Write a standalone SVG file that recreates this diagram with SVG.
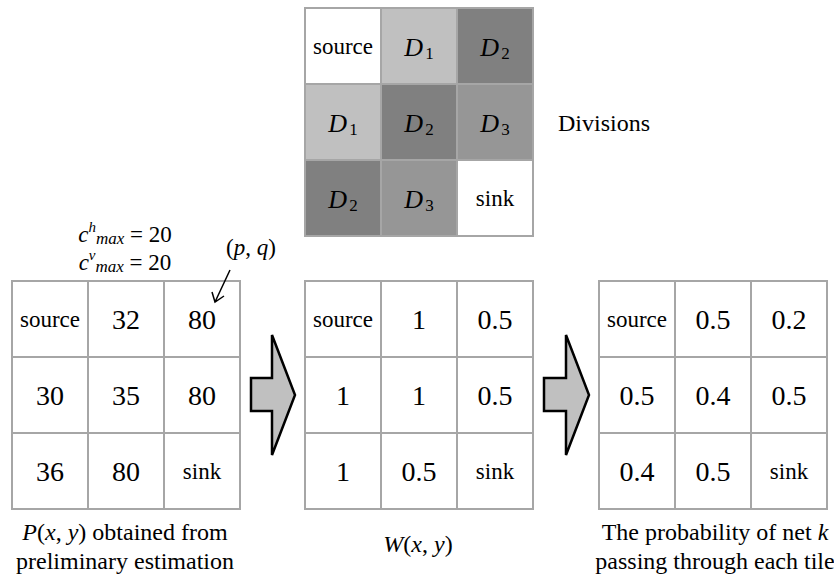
<svg xmlns="http://www.w3.org/2000/svg" width="834" height="576" viewBox="0 0 834 576">
<rect width="834" height="576" fill="#fff"/>

<g id="divisions-grid" text-anchor="middle" font-family="Liberation Serif">
<g stroke="#a6a6a6" stroke-width="2">
<rect x="305" y="8" width="76" height="76" fill="#fff"/>
<rect x="381" y="8" width="76" height="76" fill="#c0c0c0"/>
<rect x="457" y="8" width="76" height="76" fill="#808080"/>
<rect x="305" y="84" width="76" height="76" fill="#c0c0c0"/>
<rect x="381" y="84" width="76" height="76" fill="#808080"/>
<rect x="457" y="84" width="76" height="76" fill="#969696"/>
<rect x="305" y="160" width="76" height="76" fill="#808080"/>
<rect x="381" y="160" width="76" height="76" fill="#969696"/>
<rect x="457" y="160" width="76" height="76" fill="#fff"/>
</g>
<text font-family="Liberation Serif" font-size="23" x="343" y="54">source</text>
<text font-family="Liberation Serif" font-size="26" font-style="italic" x="419" y="56">D<tspan font-size="17" font-style="normal" dx="2" dy="3">1</tspan></text>
<text font-family="Liberation Serif" font-size="26" font-style="italic" x="495" y="56">D<tspan font-size="17" font-style="normal" dx="2" dy="3">2</tspan></text>
<text font-family="Liberation Serif" font-size="26" font-style="italic" x="343" y="132">D<tspan font-size="17" font-style="normal" dx="2" dy="3">1</tspan></text>
<text font-family="Liberation Serif" font-size="26" font-style="italic" x="419" y="132">D<tspan font-size="17" font-style="normal" dx="2" dy="3">2</tspan></text>
<text font-family="Liberation Serif" font-size="26" font-style="italic" x="495" y="132">D<tspan font-size="17" font-style="normal" dx="2" dy="3">3</tspan></text>
<text font-family="Liberation Serif" font-size="26" font-style="italic" x="343" y="208">D<tspan font-size="17" font-style="normal" dx="2" dy="3">2</tspan></text>
<text font-family="Liberation Serif" font-size="26" font-style="italic" x="419" y="208">D<tspan font-size="17" font-style="normal" dx="2" dy="3">3</tspan></text>
<text font-family="Liberation Serif" font-size="23" x="495" y="206">sink</text>
</g>
<g id="divisions-label" text-anchor="middle" font-family="Liberation Serif">
<text font-family="Liberation Serif" font-size="24" x="604" y="131">Divisions</text>
</g>

<g id="capacity-label" text-anchor="middle" font-family="Liberation Serif">
<text font-family="Liberation Serif" font-size="23" x="125" y="242"><tspan font-style="italic">c</tspan><tspan font-size="15" dy="-10" font-style="italic">h</tspan><tspan font-size="17" dy="12" font-style="italic">max</tspan><tspan dy="-2"> = 20</tspan></text>
<text font-family="Liberation Serif" font-size="23" x="125" y="270"><tspan font-style="italic">c</tspan><tspan font-size="15" dy="-10" font-style="italic">v</tspan><tspan font-size="17" dy="12" font-style="italic">max</tspan><tspan dy="-2"> = 20</tspan></text>
</g>
<g id="pq-label" text-anchor="middle" font-family="Liberation Serif">
<text font-family="Liberation Serif" font-size="23" x="251" y="255">(<tspan font-style="italic">p</tspan>, <tspan font-style="italic">q</tspan>)</text>
</g>

<g id="grid-P" text-anchor="middle" font-family="Liberation Serif">
<g fill="#fff" stroke="#a6a6a6" stroke-width="2">
<rect x="12" y="281" width="76" height="76"/>
<rect x="88" y="281" width="76" height="76"/>
<rect x="164" y="281" width="76" height="76"/>
<rect x="12" y="357" width="76" height="76"/>
<rect x="88" y="357" width="76" height="76"/>
<rect x="164" y="357" width="76" height="76"/>
<rect x="12" y="433" width="76" height="76"/>
<rect x="88" y="433" width="76" height="76"/>
<rect x="164" y="433" width="76" height="76"/>
</g>
<text font-family="Liberation Serif" font-size="23" x="50" y="327">source</text>
<text font-family="Liberation Serif" font-size="28" x="126" y="329">32</text>
<text font-family="Liberation Serif" font-size="28" x="202" y="329">80</text>
<text font-family="Liberation Serif" font-size="28" x="50" y="405">30</text>
<text font-family="Liberation Serif" font-size="28" x="126" y="405">35</text>
<text font-family="Liberation Serif" font-size="28" x="202" y="405">80</text>
<text font-family="Liberation Serif" font-size="28" x="50" y="481">36</text>
<text font-family="Liberation Serif" font-size="28" x="126" y="481">80</text>
<text font-family="Liberation Serif" font-size="23" x="202" y="479">sink</text>
</g>

<g id="grid-W" text-anchor="middle" font-family="Liberation Serif">
<g fill="#fff" stroke="#a6a6a6" stroke-width="2">
<rect x="305" y="281" width="76" height="76"/>
<rect x="381" y="281" width="76" height="76"/>
<rect x="457" y="281" width="76" height="76"/>
<rect x="305" y="357" width="76" height="76"/>
<rect x="381" y="357" width="76" height="76"/>
<rect x="457" y="357" width="76" height="76"/>
<rect x="305" y="433" width="76" height="76"/>
<rect x="381" y="433" width="76" height="76"/>
<rect x="457" y="433" width="76" height="76"/>
</g>
<text font-family="Liberation Serif" font-size="23" x="343" y="327">source</text>
<text font-family="Liberation Serif" font-size="28" x="419" y="329">1</text>
<text font-family="Liberation Serif" font-size="28" x="495" y="329">0.5</text>
<text font-family="Liberation Serif" font-size="28" x="343" y="405">1</text>
<text font-family="Liberation Serif" font-size="28" x="419" y="405">1</text>
<text font-family="Liberation Serif" font-size="28" x="495" y="405">0.5</text>
<text font-family="Liberation Serif" font-size="28" x="343" y="481">1</text>
<text font-family="Liberation Serif" font-size="28" x="419" y="481">0.5</text>
<text font-family="Liberation Serif" font-size="23" x="495" y="479">sink</text>
</g>

<g id="grid-prob" text-anchor="middle" font-family="Liberation Serif">
<g fill="#fff" stroke="#a6a6a6" stroke-width="2">
<rect x="599" y="281" width="76" height="76"/>
<rect x="675" y="281" width="76" height="76"/>
<rect x="751" y="281" width="76" height="76"/>
<rect x="599" y="357" width="76" height="76"/>
<rect x="675" y="357" width="76" height="76"/>
<rect x="751" y="357" width="76" height="76"/>
<rect x="599" y="433" width="76" height="76"/>
<rect x="675" y="433" width="76" height="76"/>
<rect x="751" y="433" width="76" height="76"/>
</g>
<text font-family="Liberation Serif" font-size="23" x="637" y="327">source</text>
<text font-family="Liberation Serif" font-size="28" x="713" y="329">0.5</text>
<text font-family="Liberation Serif" font-size="28" x="789" y="329">0.2</text>
<text font-family="Liberation Serif" font-size="28" x="637" y="405">0.5</text>
<text font-family="Liberation Serif" font-size="28" x="713" y="405">0.4</text>
<text font-family="Liberation Serif" font-size="28" x="789" y="405">0.5</text>
<text font-family="Liberation Serif" font-size="28" x="637" y="481">0.4</text>
<text font-family="Liberation Serif" font-size="28" x="713" y="481">0.5</text>
<text font-family="Liberation Serif" font-size="23" x="789" y="479">sink</text>
</g>

<g id="caption-P" text-anchor="middle" font-family="Liberation Serif">
<text font-family="Liberation Serif" font-size="24" x="125" y="540"><tspan font-style="italic">P</tspan>(<tspan font-style="italic">x</tspan>, <tspan font-style="italic">y</tspan>) obtained from</text>
<text font-family="Liberation Serif" font-size="24" x="125" y="569">preliminary estimation</text>
</g>
<g id="caption-W" text-anchor="middle" font-family="Liberation Serif">
<text font-family="Liberation Serif" font-size="24" x="418" y="552"><tspan font-style="italic">W</tspan>(<tspan font-style="italic">x</tspan>, <tspan font-style="italic">y</tspan>)</text>
</g>
<g id="caption-prob" text-anchor="middle" font-family="Liberation Serif">
<text font-family="Liberation Serif" font-size="24" x="715" y="540">The probability of net <tspan font-style="italic">k</tspan></text>
<text font-family="Liberation Serif" font-size="24" x="715" y="569">passing through each tile</text>
</g>

<g id="connectors">
<path d="M251,378 H272 V335 L295,395 L272,455 V411 H251 Z" fill="#c0c0c0" stroke="#000" stroke-width="2.5"/>
<path d="M544,378 H566 V335 L589,395 L566,455 V411 H544 Z" fill="#c0c0c0" stroke="#000" stroke-width="2.5"/>
<path d="M230,270 L215,302 M212,292 L215,302 L224,296" fill="none" stroke="#000" stroke-width="1.5"/>
</g>
</svg>
